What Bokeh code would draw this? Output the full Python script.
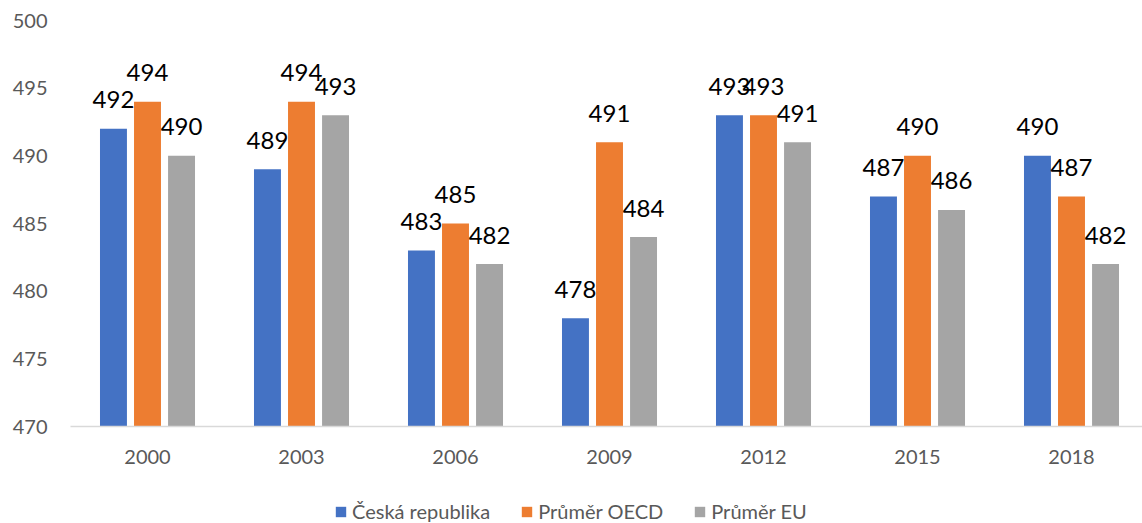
from bokeh.plotting import figure
from bokeh.models import ColumnDataSource, Range1d, FixedTicker, Legend, LegendItem
from bokeh.layouts import column
from bokeh.core.properties import value
from bokeh.transform import dodge
from bokeh.embed import file_html
from bokeh.resources import INLINE

years = ["2000", "2003", "2006", "2009", "2012", "2015", "2018"]
series_names = ["Česká republika", "Průměr OECD", "Průměr EU"]
cz = [492, 489, 483, 478, 493, 487, 490]
oecd = [494, 494, 485, 491, 493, 490, 487]
eu = [490, 493, 482, 484, 491, 486, 482]
colors = ["#4472C4", "#ED7D31", "#A5A5A5"]
y_ticks = [470, 475, 480, 485, 490, 495, 500]

FONT = "Lato"
x_pos = [i + 0.5 for i in range(len(years))]
src = ColumnDataSource(dict(x=x_pos, cz=cz, oecd=oecd, eu=eu,
                            cz_t=[str(v) for v in cz],
                            oecd_t=[str(v) for v in oecd],
                            eu_t=[str(v) for v in eu]))

p = figure(width=1142, height=480, output_backend="svg", toolbar_location=None,
           x_range=Range1d(0, 1072 / 154), y_range=Range1d(470, 500),
           min_border_left=70, min_border_right=0, min_border_top=20, min_border_bottom=54)
p.outline_line_color = None
p.xgrid.visible = False
p.ygrid.visible = False

offsets = [-0.221, 0.0, 0.221]
keys = ["cz", "oecd", "eu"]
for k, off, c in zip(keys, offsets, colors):
    p.vbar(x=dodge("x", off, range=p.x_range), top=k, bottom=470, width=0.175,
           source=src, fill_color=c, line_color=None)
    p.text(x=dodge("x", off, range=p.x_range), y=k, text=k + "_t", source=src,
           text_align="center", text_baseline="alphabetic", y_offset=-29,
           text_font=value(FONT), text_font_size="24px", text_color="#000000")

p.xaxis.ticker = FixedTicker(ticks=x_pos)
p.xaxis.major_label_overrides = {x: y for x, y in zip(x_pos, years)}
p.xaxis.major_tick_line_color = None
p.xaxis.minor_tick_line_color = None
p.xaxis.major_tick_out = 0
p.xaxis.axis_line_color = "#D9D9D9"
p.xaxis.axis_line_width = 1.5
p.xaxis.major_label_standoff = 23
p.xaxis.major_label_text_font = FONT
p.xaxis.major_label_text_font_size = "20px"
p.xaxis.major_label_text_color = "#595959"

p.yaxis.ticker = FixedTicker(ticks=y_ticks)
p.yaxis.axis_line_color = None
p.yaxis.major_tick_line_color = None
p.yaxis.minor_tick_line_color = None
p.yaxis.major_tick_out = 0
p.yaxis.major_label_standoff = 23
p.yaxis.major_label_text_font = FONT
p.yaxis.major_label_text_font_size = "20px"
p.yaxis.major_label_text_color = "#595959"

# legend strip below the chart (hidden renderers only supply the legend swatches)
lg = figure(width=1142, height=43, output_backend="svg", toolbar_location=None,
            x_range=Range1d(0, 1), y_range=Range1d(0, 1),
            x_axis_type=None, y_axis_type=None,
            min_border_left=0, min_border_right=0, min_border_top=0, min_border_bottom=0)
lg.outline_line_color = None
lg.xgrid.visible = False
lg.ygrid.visible = False
lsrc = ColumnDataSource(dict(x=x_pos, cz=cz, oecd=oecd, eu=eu))
legend_renderers = []
for k, c in zip(keys, colors):
    r = lg.vbar(x="x", top=k, bottom=470, width=0.175, source=lsrc,
                fill_color=c, line_color=None)
    r.visible = False
    legend_renderers.append(r)

legend = Legend(items=[LegendItem(label=n, renderers=[r]) for n, r in zip(series_names, legend_renderers)],
                orientation="horizontal", location=(264, 0), padding=0, margin=0,
                border_line_color=None, background_fill_alpha=0,
                inactive_fill_alpha=0,
                glyph_width=13, glyph_height=13, label_standoff=5, spacing=30,
                label_text_font=FONT, label_text_font_size="20px", label_text_color="#595959")
lg.add_layout(legend, "center")

open("out.html", "w").write(file_html(column(p, lg, spacing=0), INLINE))
